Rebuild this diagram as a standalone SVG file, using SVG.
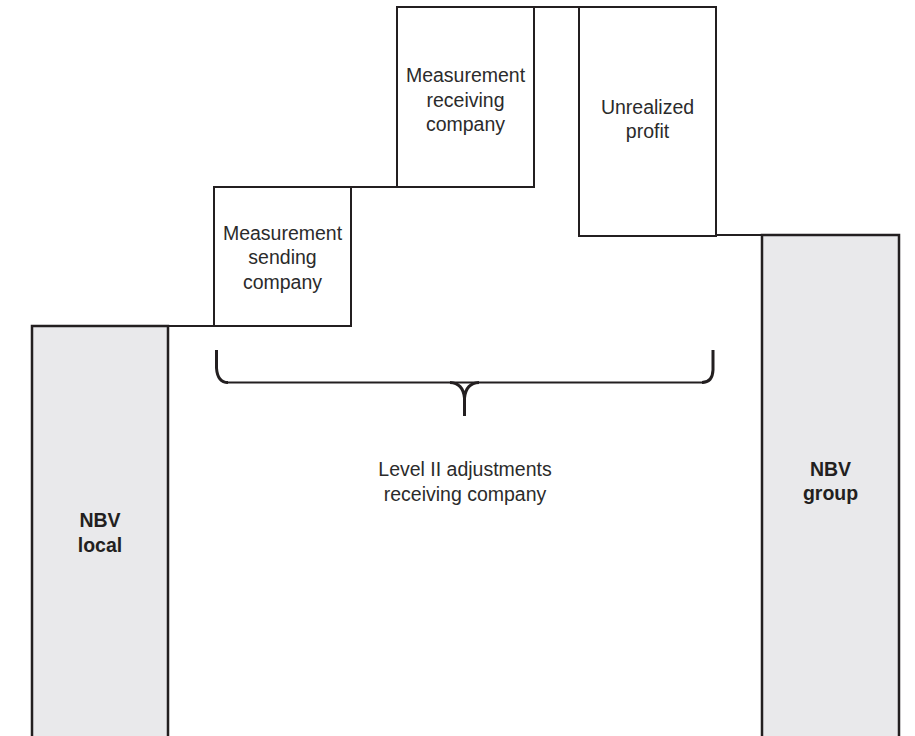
<svg xmlns="http://www.w3.org/2000/svg" width="915" height="736" viewBox="0 0 915 736">
  <style>
    .box { fill: #ffffff; stroke: #231f20; stroke-width: 2; }
    .shade { fill: #e9e9eb; stroke: #231f20; stroke-width: 2.5; }
    .link { fill: none; stroke: #231f20; stroke-width: 2; }
    .brace { fill: none; stroke: #231f20; stroke-width: 3; stroke-linecap: butt; stroke-linejoin: round; }
    .brace-bar { fill: none; stroke: #231f20; stroke-width: 2.2; }
    text { font-family: "Liberation Sans", Arial, sans-serif; font-size: 19.5px; fill: #2b2b2b; text-anchor: middle; }
    .bold { font-weight: bold; fill: #231f20; }
  </style>
  <rect width="915" height="736" fill="#ffffff"/>

  <!-- step connectors and the brace under the middle steps -->
  <g id="connectors">
    <line class="link" x1="168" y1="326" x2="214" y2="326"/>
    <line class="link" x1="351" y1="187" x2="397" y2="187"/>
    <line class="link" x1="534" y1="7" x2="579" y2="7"/>
    <line class="link" x1="716" y1="235" x2="762" y2="235"/>
    <line class="brace-bar" x1="226" y1="382.5" x2="704" y2="382.5"/>
    <path class="brace" d="M216.5,350 L216.5,368 Q217.5,382.5 228,382.5"/>
    <path class="brace" d="M713,350 L713,370 Q712.5,382.5 702,382.5"/>
    <path class="brace" d="M450,382.5 Q463,383 464.5,398 L464.5,416 M464.5,398 Q466,383 479,382.5"/>
  </g>

  <g id="nbv-local">
    <path class="shade" d="M32,740 L32,326 L168,326 L168,740"/>
    <text class="bold" x="100" y="527">NBV</text>
    <text class="bold" x="100" y="552">local</text>
  </g>

  <g id="measurement-sending">
    <rect class="box" x="214" y="187" width="137" height="139"/>
    <text x="282.5" y="240">Measurement</text>
    <text x="282.5" y="264">sending</text>
    <text x="282.5" y="289">company</text>
  </g>

  <g id="measurement-receiving">
    <rect class="box" x="397" y="7" width="137" height="180"/>
    <text x="465.5" y="82">Measurement</text>
    <text x="465.5" y="107">receiving</text>
    <text x="465.5" y="131">company</text>
  </g>

  <g id="unrealized-profit">
    <rect class="box" x="579" y="7" width="137" height="229"/>
    <text x="647.5" y="114">Unrealized</text>
    <text x="647.5" y="138">profit</text>
  </g>

  <g id="nbv-group">
    <path class="shade" d="M762,740 L762,235 L899,235 L899,740"/>
    <text class="bold" x="830.5" y="476">NBV</text>
    <text class="bold" x="830.5" y="500">group</text>
  </g>

  <g id="level-ii">
    <text x="465" y="476">Level II adjustments</text>
    <text x="465" y="501">receiving company</text>
  </g>
</svg>
